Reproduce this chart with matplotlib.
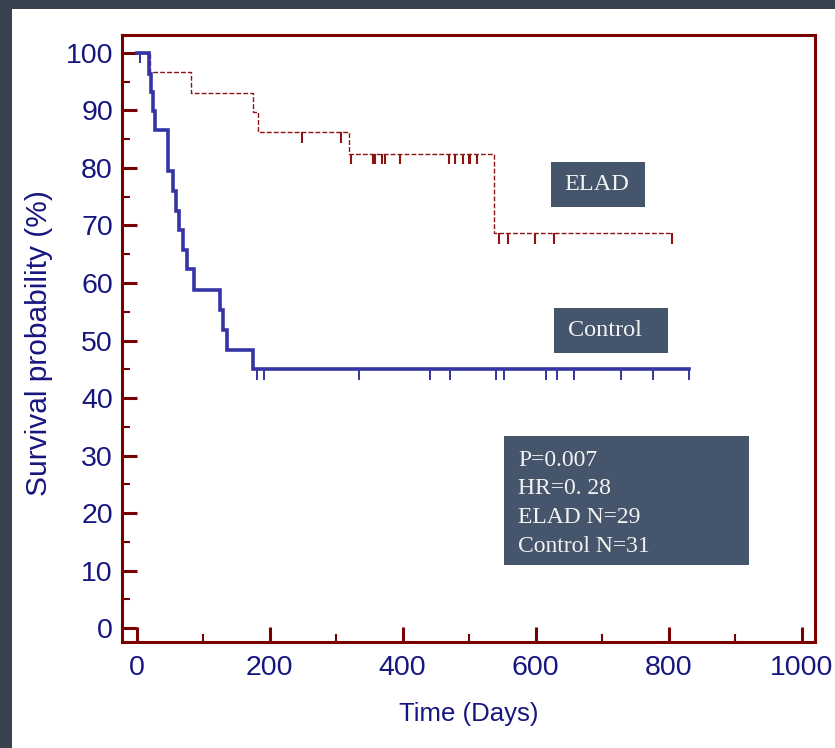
import matplotlib
matplotlib.use("Agg")
import matplotlib.pyplot as plt
from matplotlib.patches import Rectangle
from matplotlib.ticker import MultipleLocator

# ELAD arm (dashed red)
elad_t = [0, 20, 82, 175, 182, 320, 538, 805]
elad_s = [100, 96.6, 93.1, 89.7, 86.2, 82.5, 68.7, 68.7]
elad_cens_t = [249, 307, 322, 355, 358, 369, 374, 396, 469, 479, 490, 499, 501, 512,
               545, 559, 599, 628, 805]

# Control arm (solid blue)
ctrl_t = [0, 19, 22, 24.5, 27, 47, 55, 59, 64, 69.5, 75.5, 86.5, 125.5, 130.5, 135.5, 175.5, 831]
ctrl_s = [100, 96.4, 93.2, 89.9, 86.6, 79.5, 76.0, 72.5, 69.2, 65.7, 62.4, 58.8, 55.3, 51.9,
          48.3, 45.0, 45.0]
ctrl_cens_t = [181, 191, 334, 441, 471, 541, 553, 616, 632, 657, 729, 777, 830]

stats_lines = ["P=0.007", "HR=0. 28", "ELAD N=29", "Control N=31"]

sans = "Liberation Sans"
serif = "Liberation Serif"

navy = "#16167f"
maroon = "#780000"
blue = "#3434a4"
red = "#8e1414"
boxc = "#45556b"

fig = plt.figure(figsize=(8.35, 7.48), dpi=100)
fig.patch.set_facecolor("#38434f")
W, H = 835, 748
fig.patches.append(Rectangle((12 / W, 0), 1, 1 - 9 / H, transform=fig.transFigure,
                             facecolor="white", edgecolor="none", zorder=-1))

ax = fig.add_axes([122 / W, 1 - 642 / H, (815 - 122) / W, (642 - 35) / H])
ax.set_xlim(-22, 1020)
ax.set_ylim(-2.4, 103.1)

def step_xy(t, s):
    xs, ys = [], []
    for i in range(len(t)):
        if i > 0:
            xs.append(t[i]); ys.append(s[i - 1])
        xs.append(t[i]); ys.append(s[i])
    return xs, ys

def surv_at(t, s, x):
    v = s[0]
    for ti, si in zip(t, s):
        if ti <= x:
            v = si
    return v

ex, ey = step_xy(elad_t, elad_s)
ax.plot(ex, ey, color=red, lw=1.0, linestyle=(0, (3.5, 1.5)), zorder=3)
cx, cy = step_xy(ctrl_t, ctrl_s)
ax.plot(cx, cy, color=blue, lw=2.6, zorder=4, solid_joinstyle="miter")

for x in elad_cens_t:
    v = surv_at(elad_t, elad_s, x)
    ax.vlines(x, v - 1.9, v, color=red, lw=1.5, zorder=3)
for x in ctrl_cens_t:
    v = surv_at(ctrl_t, ctrl_s, x)
    ax.vlines(x, v - 1.8, v, color=blue, lw=1.4, zorder=4)
ax.vlines(5, 98.2, 100, color=blue, lw=1.4, zorder=4)

for sp in ax.spines.values():
    sp.set_color(maroon)
    sp.set_linewidth(2.2)

ax.xaxis.set_major_locator(MultipleLocator(200))
ax.xaxis.set_minor_locator(MultipleLocator(100))
ax.yaxis.set_major_locator(MultipleLocator(10))
ax.yaxis.set_minor_locator(MultipleLocator(5))
ax.tick_params(which="both", direction="in", color=maroon, top=False, right=False)
ax.tick_params(which="major", length=11, width=2.2, pad=6.5, labelsize=20.5, labelcolor=navy)
ax.tick_params(axis="x", which="major", pad=9.5)
ax.tick_params(which="minor", length=5.5, width=1.5)
for lab in ax.get_xticklabels() + ax.get_yticklabels():
    lab.set_family(sans)

ax.set_xlabel("Time (Days)", family=sans, fontsize=18.5, color=navy, labelpad=15)
ax.set_ylabel("Survival probability (%)", family=sans, fontsize=21.5, color=navy)
ax.yaxis.set_label_coords(-0.099, 0.492)

def box(x0, y0, x1, y1):
    fig.patches.append(Rectangle((x0 / W, 1 - y1 / H), (x1 - x0) / W, (y1 - y0) / H,
                                 transform=fig.transFigure, facecolor=boxc,
                                 edgecolor="none", zorder=5))

box(551, 162, 645, 207)
fig.text(597 / W, 1 - 185 / H, "ELAD", family=serif, fontsize=17.5, color="#f2f2f2",
         ha="center", va="center", zorder=6)
box(554, 308, 668, 353)
fig.text(605 / W, 1 - 331 / H, "Control", family=serif, fontsize=17.5, color="#f2f2f2",
         ha="center", va="center", zorder=6)
box(504, 436, 749, 565)
for i, line in enumerate(stats_lines):
    fig.text(518 / W, 1 - (466 + 28.5 * i) / H, line, family=serif, fontsize=17,
             color="#f2f2f2", ha="left", va="baseline", zorder=6)

fig.savefig("out.png", dpi=100, facecolor=fig.get_facecolor())
